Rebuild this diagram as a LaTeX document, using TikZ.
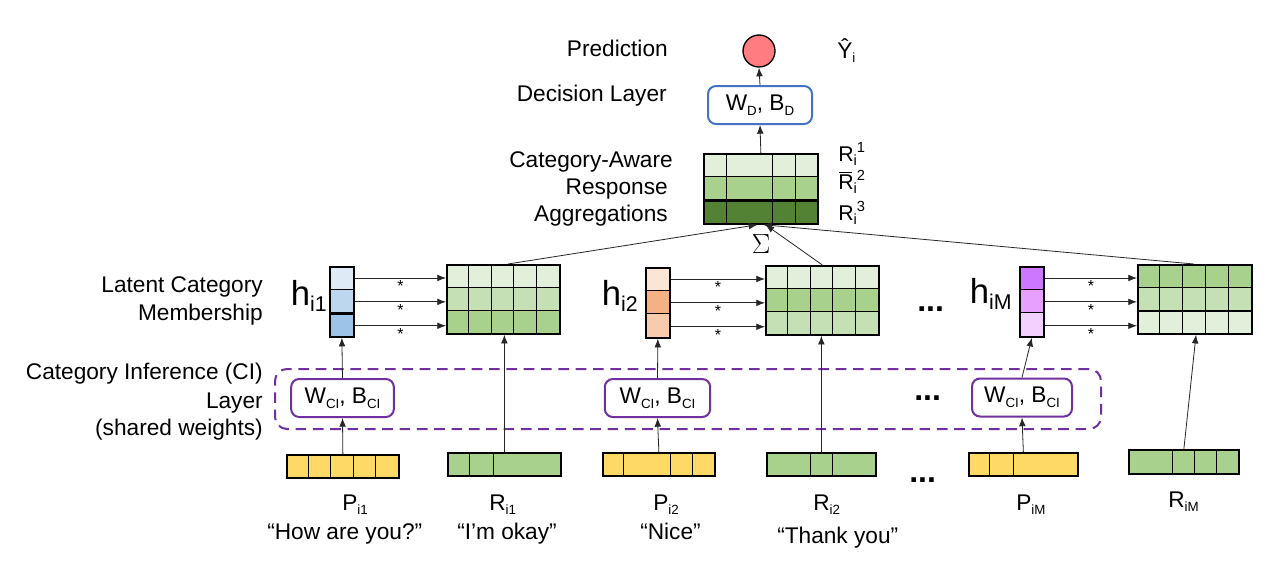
\documentclass[tikz,border=0pt]{standalone}
\usepackage{fontspec}
\setmainfont{Liberation Sans}
\usetikzlibrary{arrows.meta,calc}
\definecolor{pyel}{HTML}{FFD966}
\definecolor{gA}{HTML}{E2EFDA}
\definecolor{gB}{HTML}{C5E0B4}
\definecolor{gC}{HTML}{A9D18E}
\definecolor{gD}{HTML}{548235}
\definecolor{bA}{HTML}{DEEBF7}
\definecolor{bB}{HTML}{BDD7EE}
\definecolor{bC}{HTML}{9DC3E6}
\definecolor{oA}{HTML}{FBE5D6}
\definecolor{oB}{HTML}{F4B183}
\definecolor{oC}{HTML}{F8CBAD}
\definecolor{uA}{HTML}{CC77FF}
\definecolor{uB}{HTML}{E8A0FF}
\definecolor{uC}{HTML}{F2D0FF}
\definecolor{predred}{HTML}{FF7C80}
\definecolor{decblue}{HTML}{4472C4}
\definecolor{cipurple}{HTML}{7030A0}
\newcommand\mysub[1]{\raisebox{-3.5pt}{\fontsize{10}{12}\selectfont #1}}
\newcommand\mysup[1]{\raisebox{6pt}{\fontsize{10}{12}\selectfont #1}}
\newcommand\rsub[1]{\raisebox{-3.5pt}{\fontsize{11}{12}\selectfont #1}}
\newcommand\rsup[1]{\raisebox{6.5pt}{\fontsize{11}{12}\selectfont #1}}
\newcommand\hsub[1]{\raisebox{-5pt}{\fontsize{16}{18}\selectfont #1}}
\tikzset{
  cell/.style={line width=0.6pt},
  box/.style 2 args={draw, line width=1.3pt, inner sep=0, minimum width={(#1)*0.75pt}, minimum height={(#2)*0.75pt}, anchor=north west},
  arr/.style={-{Latex[length=6.5pt,width=5pt]}, line width=0.6pt, draw=black!85},
  lab/.style={font=\fontsize{17}{20}\selectfont, inner sep=0},
  rlab/.style={font=\fontsize{16}{18}\selectfont, inner sep=0, anchor=base west},
  hlab/.style={font=\fontsize{26}{28}\selectfont, inner sep=0, anchor=base east},
  star/.style={font=\fontsize{12}{12}\selectfont, inner sep=0},
  dots/.style={font=\fontsize{24}{24}\selectfont\bfseries, inner sep=0, anchor=base west},
  wbox/.style={draw, rounded corners=6pt, line width=1.5pt, fill=white, inner sep=0, font=\fontsize{17}{20}\selectfont},
  thickrow/.style={line width=1.3pt}
}
% matrix of 3 rows x columns
\newcommand\gridm[9]{%
  \pgfmathsetmacro\gya{#3+(#5-#3)/3}%
  \pgfmathsetmacro\gyb{#3+2*(#5-#3)/3}%
  \fill[#6] (#2,#3) rectangle (#4,\gya);
  \fill[#7] (#2,\gya) rectangle (#4,\gyb);
  \fill[#8] (#2,\gyb) rectangle (#4,#5);
  \foreach \d in {#9} {\draw[cell] (\d,#3) -- (\d,#5);}
  \draw[cell] (#2,\gya) -- (#4,\gya) (#2,\gyb) -- (#4,\gyb);
  \node[box={#4-#2}{#5-#3}] (#1) at (#2,#3) {};
}
% column vector 3x1
\newcommand\hvec[8]{%
  \pgfmathsetmacro\gya{#3+(#5-#3)/3}%
  \pgfmathsetmacro\gyb{#3+2*(#5-#3)/3}%
  \fill[#6] (#2,#3) rectangle (#4,\gya);
  \fill[#7] (#2,\gya) rectangle (#4,\gyb);
  \fill[#8] (#2,\gyb) rectangle (#4,#5);
  \draw[cell] (#2,\gya) -- (#4,\gya) (#2,\gyb) -- (#4,\gyb);
  \node[box={#4-#2}{#5-#3}] (#1) at (#2,#3) {};
}
% row vector
\newcommand\rvec[7]{%
  \fill[#6] (#2,#3) rectangle (#4,#5);
  \foreach \d in {#7} {\draw[cell] (\d,#3) -- (\d,#5);}
  \node[box={#4-#2}{#5-#3}] (#1) at (#2,#3) {};
}
\newcommand\hlinks[2]{%
  \foreach \f in {0.167,0.5,0.833}{%
    \draw[arr] ($(#1.north east)!\f!(#1.south east)$) coordinate (tmp) -- (tmp -| #2.west)
      node[midway, below=1.5pt, star] {*};}%
}
\begin{document}
\begin{tikzpicture}[x=0.75pt,y=-0.75pt]
\fill[white] (0,0) rectangle (1282,572);
\useasboundingbox (0,0) rectangle (1282,572);

% ---------- left labels ----------
\node[lab, anchor=base east] (lpred) at (668,56) {Prediction};
\node[lab, anchor=base east] (ldec) at (667,101) {Decision Layer};
\node[lab, anchor=base east] (lagg1) at (673,167) {Category-Aware};
\node[lab, anchor=base east] (lagg2) at (668,194) {Response};
\node[lab, anchor=base east] (lagg3) at (668,221) {Aggregations};
\node[lab, anchor=base east] (llat1) at (263,292) {Latent Category};
\node[lab, anchor=base east] (llat2) at (263,320) {Membership};
\node[lab, anchor=base east] (lci1) at (263,379) {Category Inference (CI)};
\node[lab, anchor=base east] (lci2) at (263,408) {Layer};
\node[lab, anchor=base east] (lci3) at (263,435) {(shared weights)};

% ---------- prediction & decision ----------
\node[circle, draw, line width=1pt, fill=predred, minimum size=24pt, inner sep=0] (pred) at (759,51) {};
\node[lab, anchor=base west] (yhat) at (837,58) {Ŷ\mysub{i}};
\node[wbox, draw=decblue, minimum width=78pt, minimum height=28.5pt] (dec) at (760,105) {W\mysub{D}, B\mysub{D}};

% ---------- aggregation matrix ----------
\gridm{agg}{703}{153}{817}{223}{gA}{gC}{gD}{726,772,795}
\draw[thickrow] ($(agg.north west)!2/3!(agg.south west)$) -- ($(agg.north east)!2/3!(agg.south east)$);
\node[rlab] (ra1) at (838,161) {R\rsub{i}\rsup{1}};
\node[rlab] (ra2) at (838,189) {R\rsub{i}\rsup{2}};
\node[rlab] (ra3) at (838,220) {R\rsub{i}\rsup{3}};
\draw[line width=0.7pt] (839,172) -- (852,172);
\node[inner sep=0, font=\fontsize{21}{22}\selectfont] (sigma) at (761,244) {$\Sigma$};

% ---------- CI area ----------
\node[box={826}{60}, draw=cipurple, line width=1.5pt, dash pattern=on 8pt off 5pt, rounded corners=9pt] (ciarea) at (274,368) {};

% ---------- h vectors ----------
\hvec{h1}{329}{266}{353}{336}{bA}{bB}{bC}
\draw[thickrow] ($(h1.north west)!2/3!(h1.south west)$) -- ($(h1.north east)!2/3!(h1.south east)$);
\hvec{h2}{645}{267}{669}{337}{oA}{oB}{oC}
\hvec{hM}{1019}{266}{1043}{336}{uA}{uB}{uC}
\node[hlab] (lh1) at (327,305) {h\hsub{i1}};
\node[hlab] (lh2) at (638,305) {h\hsub{i2}};
\node[hlab] (lhM) at (1012,303) {h\hsub{iM}};

% ---------- response matrices ----------
\gridm{m1}{446}{264}{559}{333}{gA}{gB}{gC}{468.6,491.2,513.8,536.4}
\draw[thickrow] ($(m1.north west)!1/3!(m1.south west)$) -- ($(m1.north east)!1/3!(m1.south east)$);
\gridm{m2}{765}{265}{878}{334}{gA}{gC}{gB}{787.6,810.2,832.8,855.4}
\draw[thickrow] ($(m2.north west)!1/3!(m2.south west)$) -- ($(m2.north east)!1/3!(m2.south east)$);
\gridm{m3}{1137}{264}{1251}{333}{gC}{gB}{gA}{1159.8,1182.6,1205.4,1228.2}
\draw[thickrow] ($(m3.north west)!2/3!(m3.south west)$) -- ($(m3.north east)!2/3!(m3.south east)$);

\hlinks{h1}{m1}
\hlinks{h2}{m2}
\hlinks{hM}{m3}

% ---------- CI boxes ----------
\node[wbox, draw=cipurple, minimum width=77pt, minimum height=28.5pt] (ci1) at (342.5,398) {W\mysub{CI}, B\mysub{CI}};
\node[wbox, draw=cipurple, minimum width=79pt, minimum height=28.5pt] (ci2) at (657.5,398) {W\mysub{CI}, B\mysub{CI}};
\node[wbox, draw=cipurple, minimum width=75pt, minimum height=28.5pt] (ci3) at (1022,397.5) {W\mysub{CI}, B\mysub{CI}};

% ---------- input vectors ----------
\rvec{p1}{286}{454}{398}{477}{pyel}{308.4,330.8,353.2,375.6}
\rvec{r1}{447}{452}{560}{475}{gC}{469,493}
\rvec{p2}{602}{452}{714}{475}{pyel}{623,670,692}
\rvec{r2}{766}{452}{875}{475}{gC}{810,832}
\rvec{pM}{968}{452}{1077}{475}{pyel}{989,1013}
\rvec{rM}{1128}{449}{1238}{473}{gC}{1172,1194,1216}

% ---------- dots ----------
\node[dots] (d1) at (917,311) {...};
\node[dots] (d2) at (914,400) {...};
\node[dots] (d3) at (909,482) {...};

% ---------- bottom labels ----------
\node[lab, anchor=base west] (lp1) at (342,510) {P\mysub{i1}};
\node[lab, anchor=base west] (qp1) at (267,539) {“How are you?”};
\node[lab, anchor=base west] (lr1) at (489,510) {R\mysub{i1}};
\node[lab, anchor=base west] (qr1) at (457,539) {“I’m okay”};
\node[lab, anchor=base west] (lp2) at (653,510) {P\mysub{i2}};
\node[lab, anchor=base west] (qp2) at (640,539) {“Nice”};
\node[lab, anchor=base west] (lr2) at (813,510) {R\mysub{i2}};
\node[lab, anchor=base west] (qr2) at (777,543) {“Thank you”};
\node[lab, anchor=base west] (lpM) at (1016,510) {P\mysub{iM}};
\node[lab, anchor=base west] (lrM) at (1168,507) {R\mysub{iM}};

% ---------- connectors ----------
\draw[arr] (dec.north) -- (pred.south);
\draw[arr] (agg.north) -- (dec.south);
\draw[arr] ($(m1.north west)!0.54!(m1.north east)$) -- ($(agg.south west)!0.47!(agg.south east)$);
\draw[arr] ($(m2.north west)!0.5!(m2.north east)$) -- ($(agg.south west)!0.54!(agg.south east)$);
\draw[arr] ($(m3.north west)!0.49!(m3.north east)$) -- ($(agg.south west)!0.52!(agg.south east)$);

\draw[arr] (p1.north) -- (ci1.south);
\draw[arr] (ci1.north) -- (h1.south);
\draw[arr] (p2.north) -- (ci2.south);
\draw[arr] (ci2.north) -- (h2.south);
\draw[arr] (pM.north) -- (ci3.south);
\draw[arr] (ci3.north) -- (hM.south);

\draw[arr] (r1.north) -- (r1.north |- m1.south);
\draw[arr] (r2.north) -- (r2.north |- m2.south);
\draw[arr] (rM.north) -- ($(m3.south west)!0.51!(m3.south east)$);
\end{tikzpicture}
\end{document}
